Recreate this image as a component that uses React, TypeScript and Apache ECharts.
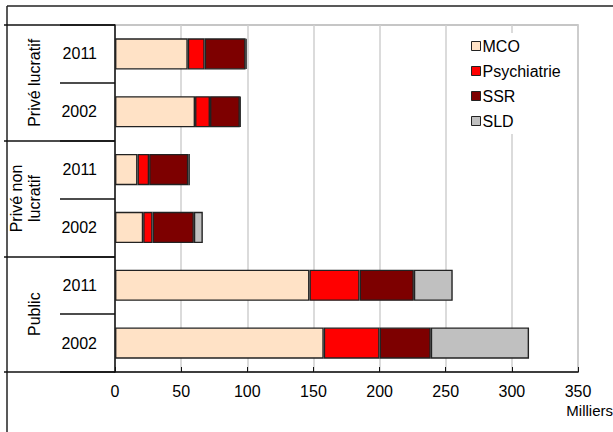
import React, { useEffect, useRef } from "react";
import * as echarts from "echarts";

const groups = ["Privé lucratif", "Privé non\nlucratif", "Public"];
const years = ["2011", "2002"];
const rowKeys = ["PL|2011", "PL|2002", "PNL|2011", "PNL|2002", "PUB|2011", "PUB|2002"];
const seriesNames = ["MCO", "Psychiatrie", "SSR", "SLD"];
const mco = [55, 60.5, 17, 21.3, 147, 157.8];
const psychiatrie = [12.8, 11.3, 8.8, 7.1, 37.9, 42.2];
const ssr = [30.9, 22.6, 29.6, 31.2, 41, 38.7];
const sld = [0.8, 0.5, 1.2, 6.8, 29.4, 74.3];
const colors = ["#FFE2C6", "#FF0000", "#7D0000", "#C0C0C0"];
const xTicks = { min: 0, max: 350, interval: 50 };
const unitLabel = "Milliers";

const FONT = "Liberation Sans, Arial, sans-serif";

export default function App() {
  const ref = useRef<HTMLDivElement>(null);
  useEffect(() => {
    if (!ref.current) return;
    const chart = echarts.init(ref.current, null, { renderer: "svg" });
    const values = [mco, psychiatrie, ssr, sld];
    chart.setOption({
      animation: false,
      backgroundColor: "#fff",
      textStyle: { fontFamily: FONT },
      grid: {
        left: 115,
        top: 25,
        right: 35,
        bottom: 60,
        containLabel: false,
        outerBoundsMode: "none",
        show: true,
        borderColor: "#b4b4b4",
        borderWidth: 1.5,
        backgroundColor: "#fff",
      },
      legend: {
        orient: "vertical",
        left: 462,
        top: 33,
        padding: [5, 0, 5, 9],
        itemWidth: 9,
        itemHeight: 9,
        itemGap: 9,
        backgroundColor: "#fff",
        icon: "rect",
        itemStyle: { borderColor: "#222", borderWidth: 1 },
        textStyle: { fontSize: 16, color: "#000", fontFamily: FONT, lineHeight: 16, padding: [0, 0, 0, -3] },
        data: seriesNames,
      },
      xAxis: {
        type: "value",
        min: xTicks.min,
        max: xTicks.max,
        interval: xTicks.interval,
        axisLine: { show: true, lineStyle: { color: "#111", width: 1.5 } },
        axisTick: { show: true, inside: true, length: 5, lineStyle: { color: "#111" } },
        axisLabel: { fontSize: 16, color: "#000", margin: 11, fontFamily: FONT },
        splitLine: { show: true, lineStyle: { color: "#cfcfcf", width: 1.5 } },
      },
      yAxis: [
        {
          type: "category",
          inverse: true,
          data: rowKeys,
          position: "left",
          axisLine: { show: true, onZero: false, lineStyle: { color: "#111", width: 1.5 } },
          axisTick: { show: true, length: 55, lineStyle: { color: "#111", width: 1.5 } },
          axisLabel: {
            fontSize: 16,
            color: "#000",
            margin: 18,
            fontFamily: FONT,
            formatter: (v: string) => v.split("|")[1],
          },
          splitLine: { show: false },
        },
        {
          type: "category",
          inverse: true,
          data: groups,
          position: "left",
          offset: 0,
          axisLine: { show: false },
          axisTick: { show: true, length: 111, lineStyle: { color: "#111", width: 1.5 } },
          axisLabel: {
            rotate: 90,
            fontSize: 16,
            lineHeight: 18,
            color: "#000",
            margin: 72,
            fontFamily: FONT,
          },
          splitLine: { show: false },
        },
      ],
      series: seriesNames.map((name, i) => ({
        name,
        type: "bar",
        stack: "total",
        yAxisIndex: 0,
        barWidth: "54%",
        data: values[i],
        itemStyle: { color: colors[i], borderColor: "#222", borderWidth: 1.4 },
      })),
      graphic: [
        {
          type: "line",
          shape: { x1: 7, y1: 6, x2: 613, y2: 6 },
          style: { stroke: "#222", lineWidth: 1.5 },
        },
        {
          type: "line",
          shape: { x1: 7, y1: 6, x2: 7, y2: 432 },
          style: { stroke: "#222", lineWidth: 1.5 },
        },
        {
          type: "text",
          right: 0,
          top: 403,
          style: { text: unitLabel, fontSize: 15, fill: "#000", fontFamily: FONT },
        },
      ],
    });
    return () => chart.dispose();
  }, []);
  return (
    <div
      ref={ref}
      style={{ position: "absolute", left: 0, top: 0, width: 613, height: 432 }}
    />
  );
}
